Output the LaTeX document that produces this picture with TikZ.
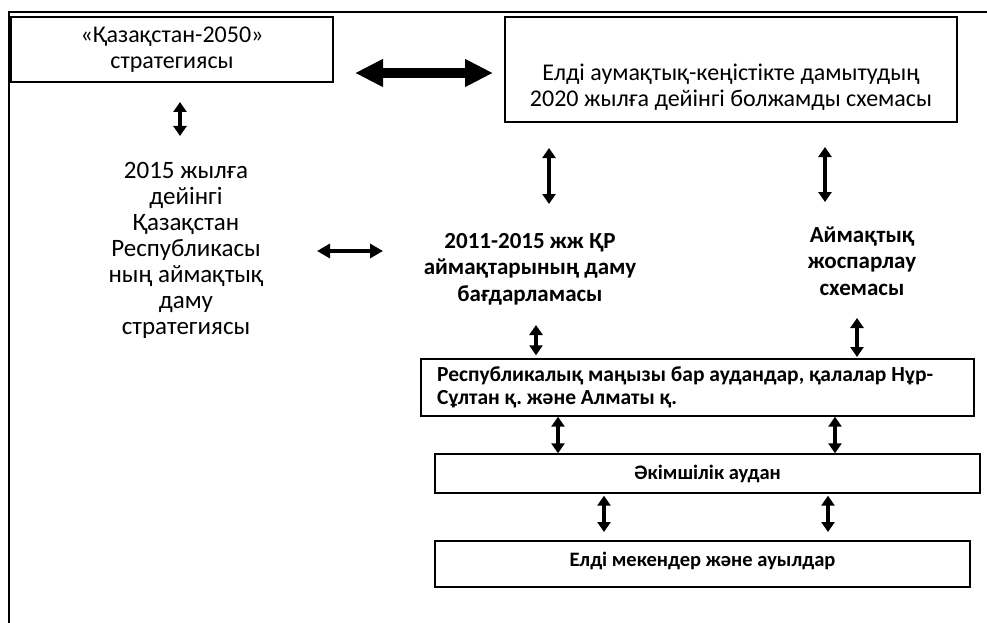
\documentclass[tikz,border=0pt]{standalone}
\usepackage{fontspec}
\setmainfont{Carlito}
\usetikzlibrary{arrows.meta}
\frenchspacing
\tikzset{
  box/.style={draw, line width=1.4pt, inner sep=0pt},
  reg/.style={font={\fontsize{24}{26}\selectfont}, align=flush center, inner sep=0pt},
  bld/.style={font={\bfseries\fontsize{23}{26.5}\selectfont}, align=flush center, inner sep=0pt},
  small/.style={font={\bfseries\fontsize{20.5}{23}\selectfont}},
  bigarrow/.style={{Triangle[length=28pt,width=26pt]}-{Triangle[length=28pt,width=26pt]}, line width=10pt},
  midarrow/.style={{Triangle[length=13pt,width=14pt]}-{Triangle[length=13pt,width=14pt]}, line width=3.5pt},
  sarrow/.style={{Triangle[length=10pt,width=13pt]}-{Triangle[length=10pt,width=13pt]}, line width=4pt},
}
\begin{document}
\begin{tikzpicture}[x=1pt,y=-1pt]
\useasboundingbox (0,0) rectangle (987,623);
% outer frame
\draw[line width=1.5pt] (9,623) -- (9,12) -- (987,12);
% boxes and texts
\node[box, reg, minimum width=322pt, minimum height=65pt] (b1) at (172,49.5) {«Қазақстан-2050»\\стратегиясы};
\node[box, minimum width=452pt, minimum height=105pt] (b2) at (731,69.5) {};
\node[reg] (t2) at (731,87) {Елді аумақтық-кеңістікте дамытудың\\2020 жылға дейінгі болжамды схемасы};
\node[reg, font={\fontsize{25}{26}\selectfont}] (t3) at (186,250) {2015 жылға\\дейінгі\\Қазақстан\\Республикасы\\ның аймақтық\\даму\\стратегиясы};
\node[bld] (t4) at (530,269) {2011-2015 жж ҚР\\аймақтарының даму\\бағдарламасы};
\node[bld] (t5) at (862,261) {Аймақтық\\жоспарлау\\схемасы};
\node[box, small, font={\bfseries\fontsize{21.5}{23}\selectfont}, inner xsep=16pt, text width=521pt, minimum height=57pt, align=flush left] (b3) at (697.5,387.5) {Республикалық маңызы бар аудандар, қалалар Нұр-\\Сұлтан қ. және Алматы қ.};
\node[box, small, minimum width=545pt, minimum height=39pt] (b4) at (707.5,473.5) {Әкімшілік аудан};
\node[box, small, minimum width=535pt, minimum height=46pt, text depth=10pt] (b5) at (702.5,564) {Елді мекендер және ауылдар};
% coordinates for floating arrow ends
\coordinate (a1) at (180,102);  \coordinate (a1e) at (180,136);
\coordinate (h1) at (355,73);   \coordinate (h1e) at (493,73);
\coordinate (h2) at (317,251);  \coordinate (h2e) at (383,251);
\coordinate (v1) at (549,148);  \coordinate (v1e) at (549,204);
\coordinate (v2) at (825,147);  \coordinate (v2e) at (825,202);
\coordinate (v3) at (536,325);
\coordinate (v4) at (857,318);  \coordinate (v4e) at (857,357);
\coordinate (v5e) at (604,532);
\coordinate (v6e) at (828,532);
% arrows
\draw[bigarrow] (h1) -- (h1e);
\draw[sarrow] (a1) -- (a1e);
\draw[midarrow] (h2) -- (h2e);
\draw[sarrow] (v1) -- (v1e);
\draw[sarrow] (v2) -- (v2e);
\draw[sarrow] (v3) -- ([yshift=3pt]b3.north -| v3);
\draw[sarrow] (v4) -- (v4e);
\draw[sarrow] (b3.south -| 558,0) -- (b4.north -| 558,0);
\draw[sarrow] (b3.south -| 835,0) -- (b4.north -| 835,0);
\draw[sarrow] ([yshift=-2pt]b4.south -| v5e) -- (v5e);
\draw[sarrow] ([yshift=-2pt]b4.south -| v6e) -- (v6e);
\end{tikzpicture}
\end{document}
